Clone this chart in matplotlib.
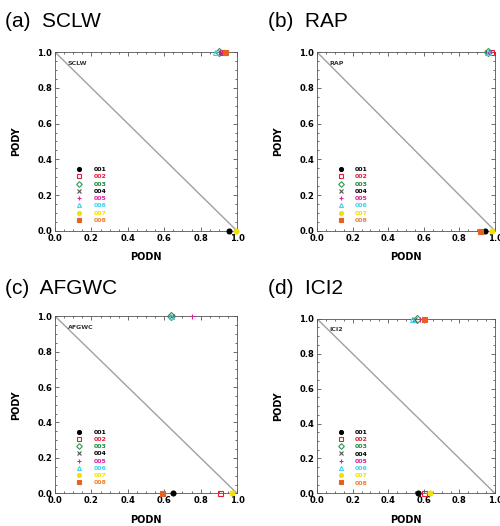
import numpy as np
import matplotlib.pyplot as plt
from matplotlib.ticker import MultipleLocator

IMG_SIZE = (5.0, 5.26)

series = ['001', '002', '003', '004', '005', '006', '007', '008']
colors = ['black', '#e0203a', '#2a9a50', '#555555', '#e020a0', '#40d0f0', '#f5e000', '#e86020']
text_colors = ['black', '#e0203a', '#1a8a40', 'black', '#e020a0', '#40d0f0', '#f5e000', '#f08030']
markers = ['o', 's', 'D', 'x', '+', '^', 'o', 's']
filled = [True, False, False, True, True, False, True, True]

panels = ['SCLW', 'RAP', 'AFGWC', 'ICI2']
letters = ['(a)', '(b)', '(c)', '(d)']

# PODN / PODY per series, one row per panel
podn = [
    [0.955, 0.915, 0.90, 0.905, 0.92, 0.88, 0.995, 0.935],
    [0.945, 0.975, 0.96, 0.955, 0.965, 0.96, 0.985, 0.915],
    [0.65, 0.905, 0.635, 0.64, 0.755, 0.635, 0.97, 0.59],
    [0.57, 0.60, 0.56, 0.545, 0.58, 0.535, 0.635, 0.60],
]
pody = [
    [0.0, 1.0, 1.0, 1.0, 1.0, 1.0, 0.0, 1.0],
    [0.0, 1.0, 1.0, 1.0, 1.0, 1.0, 0.0, 0.0],
    [0.0, 0.0, 1.0, 1.0, 1.0, 1.0, 0.0, 0.0],
    [0.0, 0.0, 1.0, 1.0, 1.0, 1.0, 0.0, 1.0],
]

positions = [
    [0.110, 0.561, 0.364, 0.340],
    [0.634, 0.561, 0.356, 0.340],
    [0.110, 0.062, 0.364, 0.337],
    [0.634, 0.062, 0.356, 0.332],
]
title_pos = [(0.01, 0.960), (0.535, 0.960), (0.01, 0.452), (0.535, 0.452)]

fig = plt.figure(figsize=IMG_SIZE, dpi=100)

for k in range(4):
    ax = fig.add_axes(positions[k])
    ax.plot([0, 1], [1, 0], color='#a0a0a0', linewidth=1.0, zorder=1)
    for i in range(len(series)):
        face = colors[i] if filled[i] else 'none'
        ax.plot(podn[k][i], pody[k][i], linestyle='none', marker=markers[i],
                markersize=3.6, markerfacecolor=face, markeredgecolor=colors[i],
                markeredgewidth=0.8, label=series[i], clip_on=False, zorder=3)
    ax.set_xlim(0, 1)
    ax.set_ylim(0, 1)
    ax.xaxis.set_major_locator(MultipleLocator(0.2))
    ax.yaxis.set_major_locator(MultipleLocator(0.2))
    ax.xaxis.set_minor_locator(MultipleLocator(0.05))
    ax.yaxis.set_minor_locator(MultipleLocator(0.05))
    ax.tick_params(which='both', direction='in', top=True, right=True,
                   labelsize=6, width=0.6, color='#555555', pad=2)
    ax.tick_params(which='major', length=3)
    ax.tick_params(which='minor', length=1.5)
    for lab in ax.get_xticklabels() + ax.get_yticklabels():
        lab.set_fontweight('bold')
    for sp in ax.spines.values():
        sp.set_linewidth(0.6)
        sp.set_color('#555555')
    ax.set_xlabel('PODN', fontsize=7, fontweight='bold', labelpad=7)
    ax.set_ylabel('PODY', fontsize=7, fontweight='bold', labelpad=12)
    ax.text(0.07, 0.93, panels[k], fontsize=4.5, fontweight='bold', color='#333333')
    leg = ax.legend(loc='lower left', bbox_to_anchor=(0.09, 0.02), frameon=False,
                    fontsize=4.5, labelspacing=0.3, handletextpad=1.8,
                    handlelength=1.0, borderpad=0.2, markerscale=0.8)
    for t, c in zip(leg.get_texts(), text_colors):
        t.set_color(c)
        t.set_fontweight('bold')
    fig.text(title_pos[k][0], title_pos[k][1], letters[k] + '  ' + panels[k],
             fontsize=15, family='Liberation Sans', va='center', ha='left')

plt.savefig('out.png', dpi=100)
